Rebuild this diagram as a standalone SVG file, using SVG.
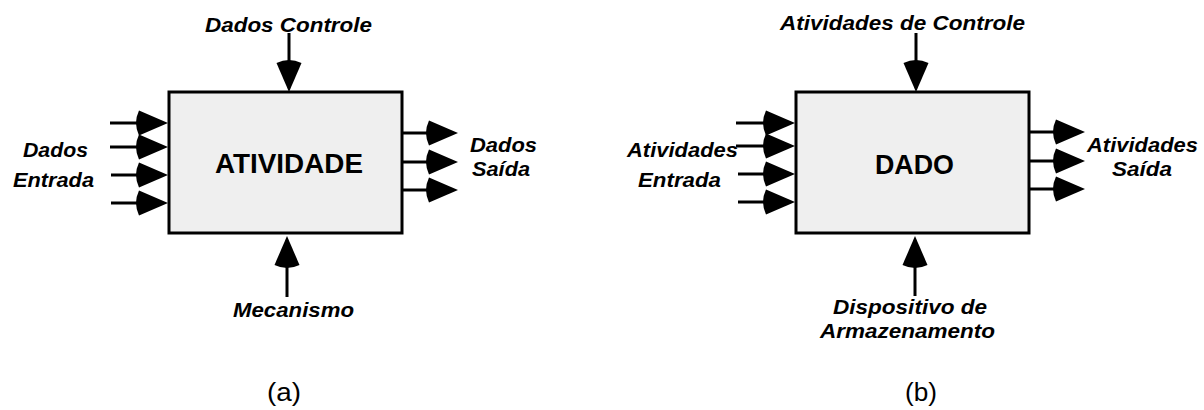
<svg xmlns="http://www.w3.org/2000/svg" xmlns:xlink="http://www.w3.org/1999/xlink" width="1204" height="410" viewBox="0 0 1204 410">
  <style>
    .box { fill: #efefef; stroke: #000; stroke-width: 3; }
    .ln { stroke: #000; stroke-width: 3; fill: none; }
    .lbl { font-family: "Liberation Sans", Arial, sans-serif; font-weight: bold; font-style: italic; font-size: 21px; fill: #000; }
    .title { font-family: "Liberation Sans", Arial, sans-serif; font-weight: bold; font-size: 28px; fill: #000; }
    .cap { font-family: "Liberation Sans", Arial, sans-serif; font-size: 25px; fill: #000; }
  </style>
  <defs>
    <path id="ah" d="M0,0 L-29,-12.5 Q-35,0 -29,12.5 Z" fill="#000"/>
  </defs>
  <rect width="1204" height="410" fill="#fff"/>

  <g id="connectors">
    <!-- (a) top -->
    <line class="ln" x1="289" y1="33" x2="289" y2="66"/>
    <use xlink:href="#ah" transform="translate(289,92) rotate(90)"/>
    <!-- (a) left inputs -->
    <line class="ln" x1="110" y1="123" x2="142" y2="123"/>
    <use xlink:href="#ah" transform="translate(168,123)"/>
    <line class="ln" x1="110" y1="147" x2="142" y2="147"/>
    <use xlink:href="#ah" transform="translate(168,147)"/>
    <line class="ln" x1="111" y1="175" x2="142" y2="175"/>
    <use xlink:href="#ah" transform="translate(168,175)"/>
    <line class="ln" x1="111" y1="203" x2="142" y2="203"/>
    <use xlink:href="#ah" transform="translate(168,203)"/>
    <!-- (a) right outputs -->
    <line class="ln" x1="402" y1="133" x2="432" y2="133"/>
    <use xlink:href="#ah" transform="translate(458,133)"/>
    <line class="ln" x1="402" y1="162" x2="432" y2="162"/>
    <use xlink:href="#ah" transform="translate(458,162)"/>
    <line class="ln" x1="402" y1="190" x2="432" y2="190"/>
    <use xlink:href="#ah" transform="translate(458,190)"/>
    <!-- (a) bottom -->
    <line class="ln" x1="287" y1="297" x2="287" y2="262"/>
    <use xlink:href="#ah" transform="translate(287,236) rotate(-90)"/>

    <!-- (b) top -->
    <line class="ln" x1="916" y1="33" x2="916" y2="66"/>
    <use xlink:href="#ah" transform="translate(916,92) rotate(90)"/>
    <!-- (b) left inputs -->
    <line class="ln" x1="736" y1="123" x2="769" y2="123"/>
    <use xlink:href="#ah" transform="translate(795,123)"/>
    <line class="ln" x1="736" y1="146" x2="769" y2="146"/>
    <use xlink:href="#ah" transform="translate(795,146)"/>
    <line class="ln" x1="738" y1="174" x2="769" y2="174"/>
    <use xlink:href="#ah" transform="translate(795,174)"/>
    <line class="ln" x1="738" y1="202" x2="769" y2="202"/>
    <use xlink:href="#ah" transform="translate(795,202)"/>
    <!-- (b) right outputs -->
    <line class="ln" x1="1029" y1="132" x2="1059" y2="132"/>
    <use xlink:href="#ah" transform="translate(1085,132)"/>
    <line class="ln" x1="1029" y1="161" x2="1059" y2="161"/>
    <use xlink:href="#ah" transform="translate(1085,161)"/>
    <line class="ln" x1="1029" y1="189" x2="1059" y2="189"/>
    <use xlink:href="#ah" transform="translate(1085,189)"/>
    <!-- (b) bottom -->
    <line class="ln" x1="915" y1="296" x2="915" y2="262"/>
    <use xlink:href="#ah" transform="translate(915,236) rotate(-90)"/>
  </g>

  <g id="node-atividade">
    <rect class="box" x="169" y="92" width="233" height="141"/>
    <text class="title" x="215" y="173" textLength="148" lengthAdjust="spacingAndGlyphs">ATIVIDADE</text>
  </g>
  <g id="node-dado">
    <rect class="box" x="796" y="92" width="233" height="141"/>
    <text class="title" x="875" y="174" textLength="79" lengthAdjust="spacingAndGlyphs">DADO</text>
  </g>

  <g id="labels-a">
    <text class="lbl" x="205" y="32" textLength="167" lengthAdjust="spacingAndGlyphs">Dados Controle</text>
    <text class="lbl" x="23" y="157" textLength="65" lengthAdjust="spacingAndGlyphs">Dados</text>
    <text class="lbl" x="13" y="187" textLength="81" lengthAdjust="spacingAndGlyphs">Entrada</text>
    <text class="lbl" x="470" y="152" textLength="67" lengthAdjust="spacingAndGlyphs">Dados</text>
    <text class="lbl" x="472" y="176" textLength="58" lengthAdjust="spacingAndGlyphs">Saída</text>
    <text class="lbl" x="233" y="317" textLength="121" lengthAdjust="spacingAndGlyphs">Mecanismo</text>
    <text class="cap" x="267" y="401" textLength="34" lengthAdjust="spacingAndGlyphs">(a)</text>
  </g>
  <g id="labels-b">
    <text class="lbl" x="780" y="30" textLength="245" lengthAdjust="spacingAndGlyphs">Atividades de Controle</text>
    <text class="lbl" x="627" y="157" textLength="111" lengthAdjust="spacingAndGlyphs">Atividades</text>
    <text class="lbl" x="638" y="187" textLength="83" lengthAdjust="spacingAndGlyphs">Entrada</text>
    <text class="lbl" x="1087" y="152" textLength="111" lengthAdjust="spacingAndGlyphs">Atividades</text>
    <text class="lbl" x="1112" y="176" textLength="60" lengthAdjust="spacingAndGlyphs">Saída</text>
    <text class="lbl" x="833" y="314" textLength="154" lengthAdjust="spacingAndGlyphs">Dispositivo de</text>
    <text class="lbl" x="820" y="338" textLength="175" lengthAdjust="spacingAndGlyphs">Armazenamento</text>
    <text class="cap" x="905" y="401" textLength="32" lengthAdjust="spacingAndGlyphs">(b)</text>
  </g>
</svg>
